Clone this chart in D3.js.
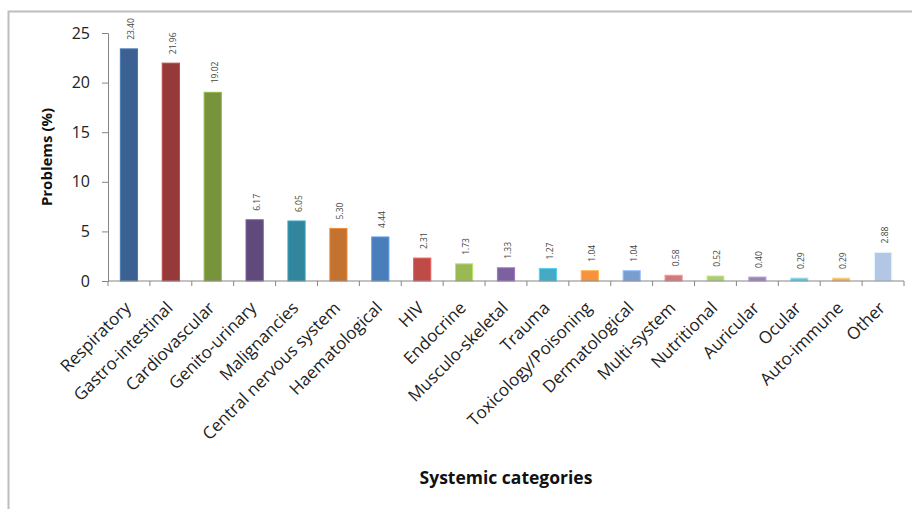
<!DOCTYPE html>
<html>
<head>
<meta charset="utf-8">
<script src="https://cdn.jsdelivr.net/npm/d3@7"></script>
<style>
  body { margin: 0; background: #fff; }
  text { font-family: "Open Sans", sans-serif; }
</style>
</head>
<body>
<svg id="chart"></svg>
<script>
const categories = ["Respiratory", "Gastro-intestinal", "Cardiovascular", "Genito-urinary", "Malignancies",
  "Central nervous system", "Haematological", "HIV", "Endocrine", "Musculo-skeletal", "Trauma",
  "Toxicology/Poisoning", "Dermatological", "Multi-system", "Nutritional", "Auricular", "Ocular",
  "Auto-immune", "Other"]
const values = [23.40, 21.96, 19.02, 6.17, 6.05, 5.30, 4.44, 2.31, 1.73, 1.33, 1.27, 1.04, 1.04, 0.58, 0.52, 0.40, 0.29, 0.29, 2.88]
const valueLabels = ["23.40", "21.96", "19.02", "6.17", "6.05", "5.30", "4.44", "2.31", "1.73", "1.33", "1.27",
  "1.04", "1.04", "0.58", "0.52", "0.40", "0.29", "0.29", "2.88"]
const colors = ["#3a6191", "#953a38", "#77933c", "#604a7b", "#31859c", "#c4722f", "#4a7ebb", "#be4b48",
  "#98b954", "#7d60a0", "#46aac5", "#f69240", "#7a9dd0", "#d07a79", "#adc97a", "#9a84b5", "#6fbdd1",
  "#f9ab6b", "#b3c6e3"]
const yTicks = [0, 5, 10, 15, 20, 25]

const width = 912, height = 509
const margin = {top: 33, left: 108, right: 8, bottom: 228}

const svg = d3.select("#chart")
  .attr("width", width)
  .attr("height", height)

// outer frame (only top and left edges show)
svg.append("rect")
  .attr("x", 8.5).attr("y", 11.5)
  .attr("width", width + 20).attr("height", height + 20)
  .attr("fill", "none")
  .attr("stroke", "#bdbdbd")
  .attr("stroke-width", 2)

const x = d3.scaleBand()
  .domain(categories)
  .range([margin.left, width - margin.right])
  .paddingInner(0.59)
  .paddingOuter(0.295)

const y = d3.scaleLinear()
  .domain([0, 25])
  .range([height - margin.bottom, margin.top])

// bars
svg.selectAll("rect.bar")
  .data(values)
  .enter().append("rect")
  .attr("class", "bar")
  .attr("x", (d, i) => x(categories[i]))
  .attr("y", d => y(d))
  .attr("width", x.bandwidth())
  .attr("height", d => y(0) - y(d))
  .attr("fill", (d, i) => colors[i])
  .attr("stroke", (d, i) => d3.color(colors[i]).brighter(0.6))
  .attr("stroke-width", 1)

// value labels
svg.selectAll("text.val")
  .data(values)
  .enter().append("text")
  .attr("class", "val")
  .attr("transform", (d, i) => `translate(${x(categories[i]) + x.bandwidth() / 2 + 2},${y(d) - 9}) rotate(-90)`)
  .attr("dy", "0.35em")
  .attr("font-size", "8.5px")
  .attr("fill", "#444")
  .text((d, i) => valueLabels[i])

// y axis
const yAxis = svg.append("g")
  .attr("transform", `translate(${margin.left},0)`)
  .call(d3.axisLeft(y).tickValues(yTicks).tickSize(6).tickPadding(12))
yAxis.select(".domain").attr("stroke", "#868686")
yAxis.selectAll(".tick line").attr("stroke", "#868686")
yAxis.selectAll(".tick text")
  .attr("font-size", "16px")
  .attr("font-family", "Open Sans, sans-serif")
  .attr("fill", "#222")

// x axis
const x0 = y(0)
svg.append("line")
  .attr("x1", margin.left).attr("x2", width - margin.right)
  .attr("y1", x0).attr("y2", x0)
  .attr("stroke", "#868686")
const step = x.step()
svg.selectAll("line.xtick")
  .data(d3.range(categories.length + 1))
  .enter().append("line")
  .attr("class", "xtick")
  .attr("x1", i => margin.left + i * step).attr("x2", i => margin.left + i * step)
  .attr("y1", x0).attr("y2", x0 + 5)
  .attr("stroke", "#868686")

svg.selectAll("text.cat")
  .data(categories)
  .enter().append("text")
  .attr("class", "cat")
  .attr("transform", d => `translate(${x(d) + x.bandwidth() / 2 + 3},${x0 + 28}) rotate(-45)`)
  .attr("text-anchor", "end")
  .attr("font-size", "17px")
  .attr("fill", "#222")
  .text(d => d)

// axis titles
svg.append("text")
  .attr("transform", `translate(52,${(y(25) + y(0)) / 2}) rotate(-90)`)
  .attr("text-anchor", "middle")
  .attr("font-size", "15px")
  .attr("font-weight", "bold")
  .attr("fill", "#111")
  .text("Problems (%)")

svg.append("text")
  .attr("x", 506).attr("y", 484)
  .attr("text-anchor", "middle")
  .attr("font-size", "17.5px")
  .attr("font-weight", "bold")
  .attr("fill", "#111")
  .text("Systemic categories")
</script>
</body>
</html>
